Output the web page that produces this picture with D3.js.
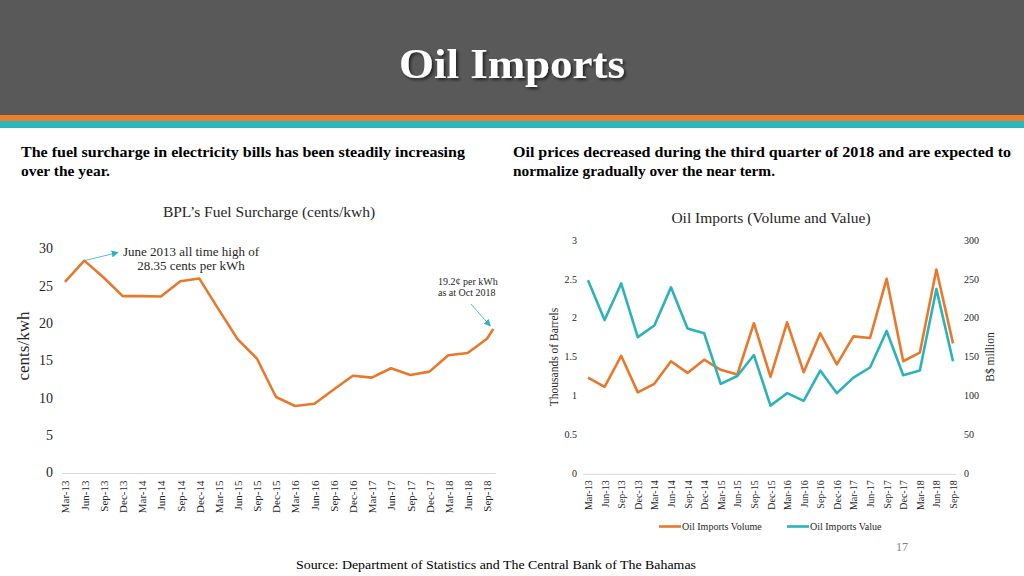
<!DOCTYPE html>
<html><head><meta charset="utf-8">
<script src="https://cdn.jsdelivr.net/npm/d3@7"></script>
<style>
html,body{margin:0;padding:0;background:#fff;}
svg{display:block;font-family:"Liberation Serif","Times New Roman",serif;}
</style></head>
<body><svg id="c" width="1024" height="576"></svg>
<script>
// ---------- data ----------
const quarterLabels = ["Mar-13","Jun-13","Sep-13","Dec-13","Mar-14","Jun-14","Sep-14","Dec-14","Mar-15","Jun-15","Sep-15","Dec-15","Mar-16","Jun-16","Sep-16","Dec-16","Mar-17","Jun-17","Sep-17","Dec-17","Mar-18","Jun-18","Sep-18"];
const surchargeDates = ["2013-03","2013-06","2013-09","2013-12","2014-03","2014-06","2014-09","2014-12","2015-03","2015-06","2015-09","2015-12","2016-03","2016-06","2016-09","2016-12","2017-03","2017-06","2017-09","2017-12","2018-03","2018-06","2018-09","2018-10"];
const surcharge = [25.5,28.35,26.1,23.6,23.6,23.55,25.6,25.95,21.9,17.85,15.25,10.1,8.9,9.2,11.1,12.95,12.7,13.95,13.05,13.5,15.7,16.0,17.9,19.2];
const surchargeTicks = [0,5,10,15,20,25,30];
const importVolume = [1.23,1.11,1.51,1.04,1.15,1.44,1.29,1.46,1.33,1.27,1.93,1.24,1.94,1.30,1.80,1.40,1.76,1.74,2.50,1.44,1.55,2.62,1.67];
const importValue = [248,197,244,175,190,239,186,180,115,125,152,87,103,93,132,103,123,136,183,126,132,237,144];
const volumeTicks = [0,0.5,1,1.5,2,2.5,3];
const valueTicks = [0,50,100,150,200,250,300];

const ORANGE = "#E8782B", TEAL = "#2BB3B9", TXT = "#262626";
const svg = d3.select("#c");

// defs
const defs = svg.append("defs");
const f = defs.append("filter").attr("id","sh").attr("x","-10%").attr("y","-20%").attr("width","130%").attr("height","150%");
f.append("feDropShadow").attr("dx",2).attr("dy",2).attr("stdDeviation",1.5).attr("flood-color","#000").attr("flood-opacity",0.6);
const mk = defs.append("marker").attr("id","arr").attr("viewBox","0 0 10 10").attr("refX",9).attr("refY",5)
  .attr("markerWidth",7).attr("markerHeight",7).attr("orient","auto").attr("markerUnits","userSpaceOnUse");
mk.append("path").attr("d","M0,0L10,5L0,10z").attr("fill",TEAL);

// ---------- header ----------
svg.append("rect").attr("x",0).attr("y",0).attr("width",1024).attr("height",115).attr("fill","#595959");
svg.append("rect").attr("x",0).attr("y",115).attr("width",1024).attr("height",6).attr("fill","#EC7F2C");
svg.append("rect").attr("x",0).attr("y",121).attr("width",1024).attr("height",7).attr("fill","#2BB7BD");
svg.append("text").attr("x",512).attr("y",78).attr("text-anchor","middle").attr("fill","#fff")
  .attr("font-size",42).attr("font-weight","bold").attr("filter","url(#sh)")
  .attr("textLength",226).attr("lengthAdjust","spacingAndGlyphs").text("Oil Imports");

// headings
function para(x, lines, w){
  lines.forEach((t,i)=>{
    const el = svg.append("text").attr("x",x).attr("y",157+i*18.5).attr("font-size",14.5).attr("font-weight","bold").attr("fill","#000").text(t);
    if (w[i]) el.attr("textLength",w[i]).attr("lengthAdjust","spacingAndGlyphs");
  });
}
para(21,["The fuel surcharge in electricity bills has been steadily increasing","over the year."],[444,89]);
para(513,["Oil prices decreased during the third quarter of 2018 and are expected to","normalize gradually over the near term."],[498,262]);

// ---------- left chart ----------
const parse = d3.timeParse("%Y-%m");
const xL = d3.scaleTime().domain([parse("2013-03"), parse("2018-10")]).range([65, 493.3]);
const yL = d3.scaleLinear().domain([0,30]).range([472.5, 248.3]);

svg.append("text").attr("x",269).attr("y",217).attr("text-anchor","middle").attr("font-size",15.5).attr("fill",TXT)
  .text("BPL\u2019s Fuel Surcharge (cents/kwh)");

svg.append("line").attr("x1",62).attr("x2",496).attr("y1",yL(0)+1).attr("y2",yL(0)+1).attr("stroke","#d9d9d9");
const qDates = surchargeDates.slice(0,23).map(parse);
const gxL = svg.append("g").attr("transform",`translate(0,${yL(0)+1})`)
  .call(d3.axisBottom(xL).tickValues(qDates).tickSize(0).tickFormat((d,i)=>quarterLabels[i]));
gxL.select(".domain").remove();
gxL.selectAll("text").attr("font-family","Liberation Serif").attr("font-size",11).attr("fill",TXT)
  .attr("text-anchor","end").attr("transform","rotate(-90)").attr("x",-7).attr("y",0).attr("dy","0.35em");

const gyL = svg.append("g").attr("transform","translate(53,0)")
  .call(d3.axisLeft(yL).tickValues(surchargeTicks).tickSize(0).tickFormat(d3.format("d")));
gyL.select(".domain").remove();
gyL.selectAll("text").attr("font-family","Liberation Serif").attr("font-size",14).attr("fill",TXT).attr("x",0);

svg.append("text").attr("transform","translate(29,346) rotate(-90)").attr("text-anchor","middle")
  .attr("font-size",17).attr("fill",TXT).text("cents/kwh");

const lineL = d3.line().x((d,i)=>xL(parse(surchargeDates[i]))).y(d=>yL(d));
svg.append("path").datum(surcharge).attr("d",lineL).attr("fill","none").attr("stroke",ORANGE)
  .attr("stroke-width",2.6).attr("stroke-linejoin","round");

// annotations
const pk = [xL(parse(surchargeDates[1])), yL(surcharge[1])];
svg.append("line").attr("x1",pk[0]).attr("y1",pk[1]).attr("x2",118).attr("y2",252.5)
  .attr("stroke",TEAL).attr("stroke-width",0.8).attr("marker-end","url(#arr)");
svg.append("text").attr("x",191).attr("y",256).attr("text-anchor","middle").attr("font-size",13).attr("fill",TXT)
  .text("June 2013 all time high of");
svg.append("text").attr("x",191).attr("y",269.5).attr("text-anchor","middle").attr("font-size",13).attr("fill",TXT)
  .text("28.35 cents per kWh");
const lastP = [xL(parse(surchargeDates[23])), yL(surcharge[23])];
svg.append("line").attr("x1",471).attr("y1",304).attr("x2",lastP[0]-3).attr("y2",lastP[1]-3)
  .attr("stroke",TEAL).attr("stroke-width",0.8).attr("marker-end","url(#arr)");
svg.append("text").attr("x",438).attr("y",285).attr("font-size",10).attr("fill",TXT).text("19.2\u00A2 per kWh");
svg.append("text").attr("x",438).attr("y",296).attr("font-size",10).attr("fill",TXT).text("as at Oct 2018");

// ---------- right chart ----------
const xR = d3.scalePoint().domain(quarterLabels).range([588, 953]);
const yR0 = d3.scaleLinear().domain([0,3]).range([473.3, 239.9]);
const yR1 = d3.scaleLinear().domain([0,300]).range([473.3, 239.9]);

svg.append("text").attr("x",771).attr("y",223).attr("text-anchor","middle").attr("font-size",15.5).attr("fill",TXT)
  .text("Oil Imports (Volume and Value)");

svg.append("line").attr("x1",583).attr("x2",956).attr("y1",yR0(0)+1).attr("y2",yR0(0)+1).attr("stroke","#d9d9d9");
const gxR = svg.append("g").attr("transform",`translate(0,${yR0(0)+1})`)
  .call(d3.axisBottom(xR).tickSize(0));
gxR.select(".domain").remove();
gxR.selectAll("text").attr("font-family","Liberation Serif").attr("font-size",10).attr("fill",TXT)
  .attr("text-anchor","end").attr("transform","rotate(-90)").attr("x",-6).attr("y",0).attr("dy","0.35em");

const gyR0 = svg.append("g").attr("transform","translate(577,0)")
  .call(d3.axisLeft(yR0).tickValues(volumeTicks).tickSize(0).tickFormat(d3.format("")));
gyR0.select(".domain").remove();
gyR0.selectAll("text").attr("font-family","Liberation Serif").attr("font-size",10).attr("fill",TXT).attr("x",0);
const gyR1 = svg.append("g").attr("transform","translate(964,0)")
  .call(d3.axisRight(yR1).tickValues(valueTicks).tickSize(0));
gyR1.select(".domain").remove();
gyR1.selectAll("text").attr("font-family","Liberation Serif").attr("font-size",10).attr("fill",TXT).attr("x",0);

svg.append("text").attr("transform","translate(558,357) rotate(-90)").attr("text-anchor","middle")
  .attr("font-size",11.5).attr("fill",TXT).text("Thousands of Barrels");
svg.append("text").attr("transform","translate(994,357) rotate(-90)").attr("text-anchor","middle")
  .attr("font-size",11.5).attr("fill",TXT).text("B$ million");

svg.append("path").datum(importVolume)
  .attr("d", d3.line().x((d,i)=>xR(quarterLabels[i])).y(d=>yR0(d)))
  .attr("fill","none").attr("stroke",ORANGE).attr("stroke-width",2.6).attr("stroke-linejoin","round");
svg.append("path").datum(importValue)
  .attr("d", d3.line().x((d,i)=>xR(quarterLabels[i])).y(d=>yR1(d)))
  .attr("fill","none").attr("stroke",TEAL).attr("stroke-width",2.6).attr("stroke-linejoin","round");

// legend
const legend = [["Oil Imports Volume",ORANGE,659],["Oil Imports Value",TEAL,787]];
legend.forEach(([t,c,x])=>{
  svg.append("line").attr("x1",x).attr("x2",x+22).attr("y1",526.5).attr("y2",526.5).attr("stroke",c).attr("stroke-width",2.6);
  svg.append("text").attr("x",x+23).attr("y",530).attr("font-size",10).attr("fill",TXT).text(t);
});

// footer
svg.append("text").attr("x",902).attr("y",551).attr("text-anchor","middle").attr("font-size",12).attr("fill","#7f7f7f").text("17");
svg.append("text").attr("x",296).attr("y",569).attr("font-size",13).attr("fill","#000")
  .attr("textLength",400).attr("lengthAdjust","spacingAndGlyphs")
  .text("Source: Department of Statistics and The Central Bank of The Bahamas");
</script></body></html>
